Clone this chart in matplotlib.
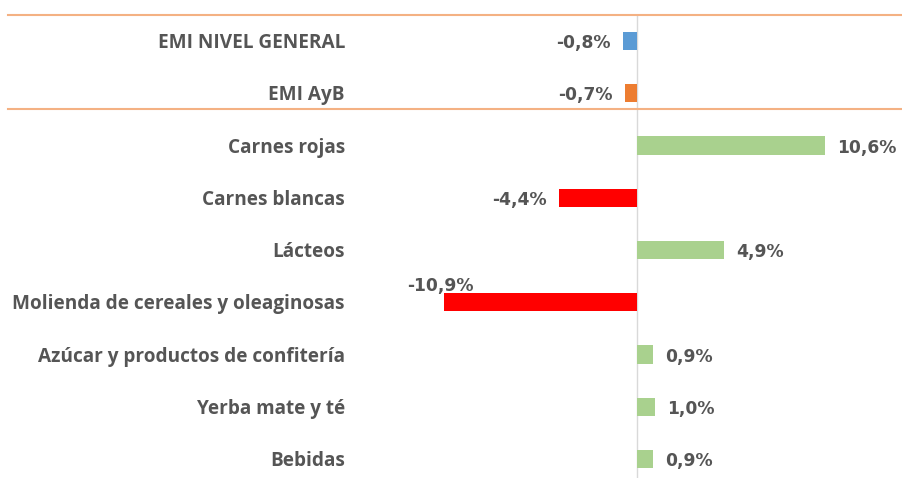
import matplotlib.pyplot as plt

categorias = ["EMI NIVEL GENERAL", "EMI AyB", "Carnes rojas", "Carnes blancas",
              "Lácteos", "Molienda de cereales y oleaginosas",
              "Azúcar y productos de confitería", "Yerba mate y té", "Bebidas"]
variacion = [-0.8, -0.7, 10.6, -4.4, 4.9, -10.9, 0.9, 1.0, 0.9]

azul = "#5B9BD5"
naranja = "#ED7D31"
verde = "#A9D18E"
rojo = "#FF0000"

colores = []
for i, v in enumerate(variacion):
    if i == 0:
        colores.append(azul)
    elif i == 1:
        colores.append(naranja)
    elif v < 0:
        colores.append(rojo)
    else:
        colores.append(verde)

plt.rcParams['font.family'] = ['Open Sans', 'DejaVu Sans']

fig = plt.figure(figsize=(9.03, 4.78), dpi=100)
ax = fig.add_axes([0, 0, 1, 1])

px = 17.7          # pixels per percentage point
fila = 52.25       # pixels per row
x0, y0 = 637, 41   # pixel of zero / first row
ax.set_xlim(-x0 / px, (903 - x0) / px)
ax.set_ylim((478 - y0) / fila, -y0 / fila)
ax.axis("off")

filas = range(len(categorias))
ax.barh(filas, variacion, height=0.35, color=colores, zorder=2)

# eje vertical y separadores
ax.vlines(0, -0.5, 9, color="#D9D9D9", lw=1, zorder=1)
for yy in (-0.5, 1.3):
    ax.axhline(yy, xmin=8 / 903, xmax=1, color="#F4B183", lw=1.5)

gris = "#555555"
fs_cat = 13.7
fs_val = 12.3
val_font = ["DejaVu Sans"]
dy = 0.04  # small downward nudge of the text
for i, (c, v) in enumerate(zip(categorias, variacion)):
    ax.text((345 - x0) / px, i + dy, c, ha="right", va="center",
            fontsize=fs_cat, fontweight="bold", color=gris)
    txt = f"{v:.1f}".replace(".", ",") + "%"
    if v >= 0:
        ax.text(v + 12 / px, i + dy, txt, ha="left", va="center", family=val_font,
                fontsize=fs_val, fontweight="bold", color=gris)
    elif i == 5:
        ax.text(v - 4 / px, i - 0.31, txt, ha="center", va="center", family=val_font,
                fontsize=fs_val, fontweight="bold", color=gris)
    else:
        ax.text(v - 12 / px, i + dy, txt, ha="right", va="center", family=val_font,
                fontsize=fs_val, fontweight="bold", color=gris)

fig.savefig("out.png", dpi=100)
